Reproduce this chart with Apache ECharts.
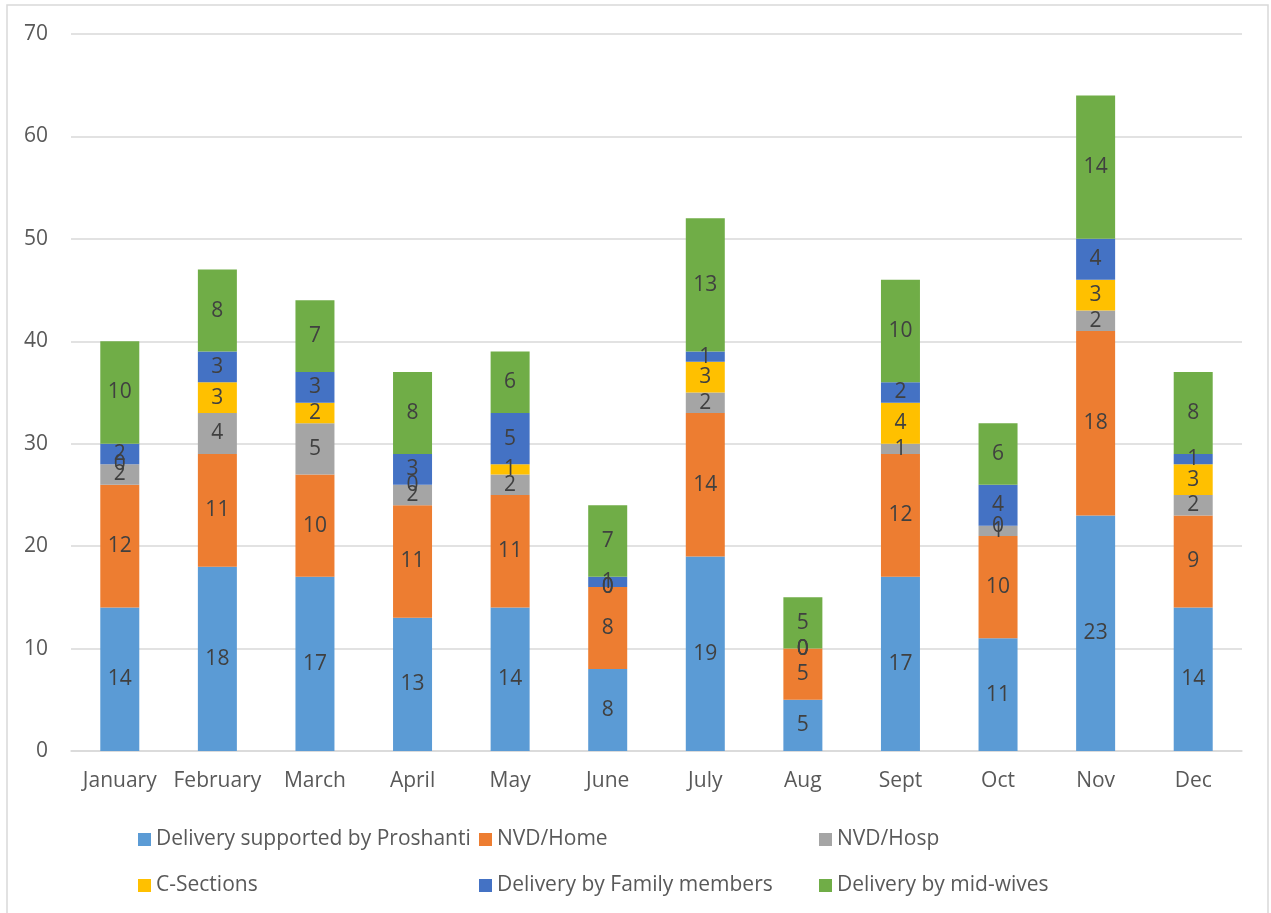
<!DOCTYPE html>
<html>
<head>
<meta charset="utf-8">
<script src="https://cdn.jsdelivr.net/npm/echarts@6/dist/echarts.min.js"></script>
<style>
  html, body { margin: 0; padding: 0; background: #fff; }
  #main { width: 1271px; height: 913px; }
</style>
</head>
<body>
<div id="main"></div>
<script>
// months
var months = ['January', 'February', 'March', 'April', 'May', 'June', 'July', 'Aug', 'Sept', 'Oct', 'Nov', 'Dec'];

// series values per month
var proshanti = [14, 18, 17, 13, 14, 8, 19, 5, 17, 11, 23, 14];
var nvdHome   = [12, 11, 10, 11, 11, 8, 14, 5, 12, 10, 18, 9];
var nvdHosp   = [2, 4, 5, 2, 2, 0, 2, 0, 1, 1, 2, 2];
var cSections = [0, 3, 2, 0, 1, 0, 3, 0, 4, 0, 3, 3];
var family    = [2, 3, 3, 3, 5, 1, 1, 0, 2, 4, 4, 1];
var midwives  = [10, 8, 7, 8, 6, 7, 13, 5, 10, 6, 14, 8];

var names = ['Delivery supported by Proshanti', 'NVD/Home', 'NVD/Hosp', 'C-Sections', 'Delivery by Family members', 'Delivery by mid-wives'];
var colors = ['#5B9BD5', '#ED7D31', '#A5A5A5', '#FFC000', '#4472C4', '#70AD47'];
var allData = [proshanti, nvdHome, nvdHosp, cSections, family, midwives];

var FONT = 'Open Sans';

var chart = echarts.init(document.getElementById('main'));

var series = allData.map(function (d, i) {
    return {
        name: names[i],
        type: 'bar',
        stack: 'total',
        barWidth: 39,
        data: d,
        itemStyle: { color: colors[i] },
        label: {
            show: true,
            position: 'inside',
            color: '#404040',
            fontFamily: FONT,
            fontSize: 21
        }
    };
});

function legendCol(left, items) {
    return {
        orient: 'vertical',
        left: left,
        top: 824,
        itemGap: 25,
        itemWidth: 13,
        itemHeight: 13,
        icon: 'rect',
        data: items,
        textStyle: { color: '#595959', fontFamily: FONT, fontSize: 21 }
    };
}

chart.setOption({
    animation: false,
    color: colors,
    graphic: [{
        type: 'rect',
        shape: { x: 7, y: 5, width: 1261, height: 912 },
        style: { fill: 'none', stroke: '#d9d9d9', lineWidth: 1.5 },
        silent: true
    }],
    legend: [
        legendCol(133, [names[0], names[3]]),
        legendCol(474, [names[1], names[4]]),
        legendCol(814, [names[2], names[5]])
    ],
    grid: { left: 71, right: 29, top: 34, bottom: 162 },
    xAxis: {
        type: 'category',
        data: months,
        axisLine: { lineStyle: { color: '#d9d9d9', width: 1.5 } },
        axisTick: { show: false },
        axisLabel: { color: '#595959', fontFamily: FONT, fontSize: 21, margin: 20, interval: 0 }
    },
    yAxis: {
        type: 'value',
        min: 0,
        max: 70,
        interval: 10,
        axisLine: { show: false },
        axisTick: { show: false },
        splitLine: { lineStyle: { color: '#d9d9d9', width: 1.5 } },
        axisLabel: { color: '#595959', fontFamily: FONT, fontSize: 21, margin: 23 }
    },
    series: series
});
</script>
</body>
</html>
